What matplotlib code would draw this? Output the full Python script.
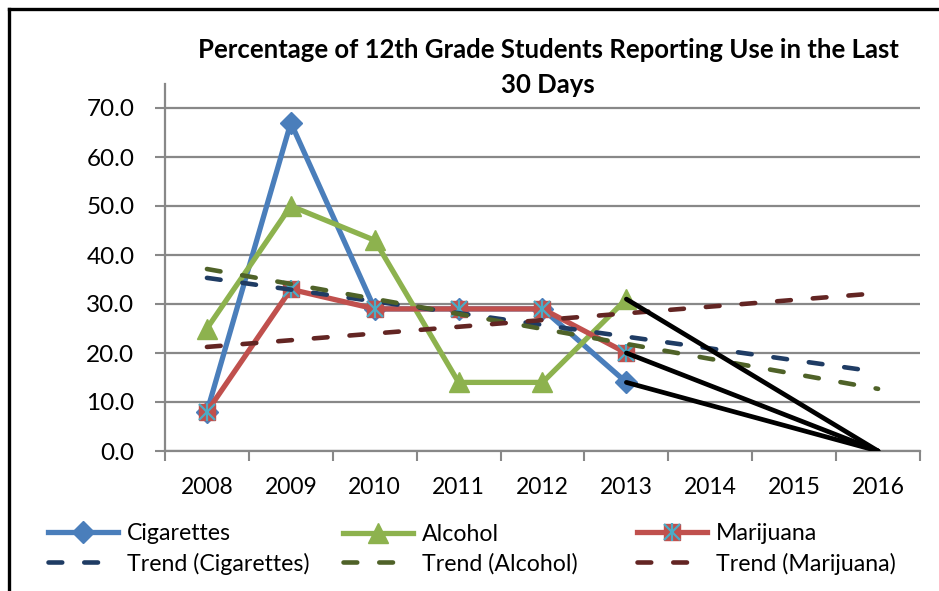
import numpy as np
import matplotlib.pyplot as plt
from matplotlib.lines import Line2D

plt.rcParams['font.family'] = ['Lato', 'DejaVu Sans']

# data
years = ['2008', '2009', '2010', '2011', '2012', '2013', '2014', '2015', '2016']
cigarettes = [8, 67, 29, 29, 29, 14]
alcohol = [25, 50, 43, 14, 14, 31]
marijuana = [8, 33, 29, 29, 29, 20]
end_value = 0          # hand-drawn black lines all end at 0 in 2016
y_ticks = [0, 10, 20, 30, 40, 50, 60, 70]

c_cig, c_alc, c_mar = '#4A7EBB', '#8DB24E', '#C0504D'
t_cig, t_alc, t_mar = '#1F3C64', '#4F6228', '#632523'
grid_col = '#888888'

fig = plt.figure(figsize=(9.39, 5.91), dpi=100)
ax = fig.add_axes([165 / 939, 1 - 451 / 591, 755 / 939, 367 / 591])

x = np.arange(len(years))
xs = x[:len(cigarettes)]

# series
l_cig, = ax.plot(xs, cigarettes, color=c_cig, lw=3.8, marker='D', ms=11,
                 zorder=3)
l_alc, = ax.plot(xs, alcohol, color=c_alc, lw=3.8, marker='^', ms=14,
                 zorder=3)
l_mar, = ax.plot(xs, marijuana, color=c_mar, lw=3.8, marker='s', ms=12,
                 zorder=3)
s1, = ax.plot(xs, marijuana, ls='none', marker='x', ms=11, mew=1.6,
              color='#4BACC6', zorder=3)
s2, = ax.plot(xs, marijuana, ls='none', marker='|', ms=13, mew=1.6,
              color='#4BACC6', zorder=3)

# linear trend lines fitted on the observed years
trends = []
for vals, col in [(cigarettes, t_cig), (alcohol, t_alc), (marijuana, t_mar)]:
    coef = np.polyfit(xs, vals, 1)
    ln, = ax.plot(x, np.polyval(coef, x), color=col, lw=3.3,
                  ls=(0, (3.0, 4.8)), dash_capstyle='round', zorder=4)
    trends.append(ln)

# black lines down to 2016
for vals in [cigarettes, alcohol, marijuana]:
    ax.plot([xs[-1], x[-1]], [vals[-1], end_value], color='black', lw=3.4,
            solid_capstyle='round', zorder=5)

ax.set_xlim(-0.5, len(years) - 0.5)
ax.set_ylim(0, 70 * 367 / 343)
ax.set_yticks(y_ticks)
ax.set_yticklabels(['%.1f' % v for v in y_ticks])
ax.set_xticks(x)
ax.set_xticklabels(years)
ax.set_xticks(np.arange(-0.5, len(years)), minor=True)
ax.tick_params(axis='x', which='major', length=0, pad=19, labelsize=16.5)
ax.tick_params(axis='x', which='minor', length=7, width=1.5, color=grid_col)
ax.tick_params(axis='y', length=7, width=1.5, color=grid_col, pad=15,
               labelsize=17.5)
ax.grid(axis='y', color=grid_col, lw=1.6)
ax.set_axisbelow(True)
for s in ['top', 'right']:
    ax.spines[s].set_visible(False)
for s in ['left', 'bottom']:
    ax.spines[s].set_color(grid_col)
    ax.spines[s].set_linewidth(1.6)

fig.text(548 / 939, 1 - 50 / 591,
         'Percentage of 12th Grade Students Reporting Use in the Last',
         ha='center', va='center', fontsize=18.5, fontweight='bold')
fig.text(548 / 939, 1 - 85 / 591, '30 Days', ha='center', va='center',
         fontsize=18.5, fontweight='bold')

# legend, one block per column
cols = [((l_cig, trends[0]), ['Cigarettes', 'Trend (Cigarettes)'], 48),
        ((l_alc, trends[1]), ['Alcohol', 'Trend (Alcohol)'], 343),
        (((l_mar, s1, s2), trends[2]), ['Marijuana', 'Trend (Marijuana)'], 637)]
for hs, labs, xp in cols:
    leg = fig.legend(list(hs), labs, loc='center left',
                     bbox_to_anchor=(xp / 939, 1 - 549 / 591),
                     frameon=False, fontsize=16.7, handlelength=3.0,
                     handletextpad=0.4, borderpad=0, borderaxespad=0,
                     labelspacing=0.35)

# chart border (top and left visible)
fig.add_artist(Line2D([9 / 939, 1], [1 - 9 / 591, 1 - 9 / 591],
                      color='black', lw=2.4))
fig.add_artist(Line2D([9 / 939, 9 / 939], [0, 1 - 9 / 591],
                      color='black', lw=2.4))

fig.savefig('out.png', dpi=100)
